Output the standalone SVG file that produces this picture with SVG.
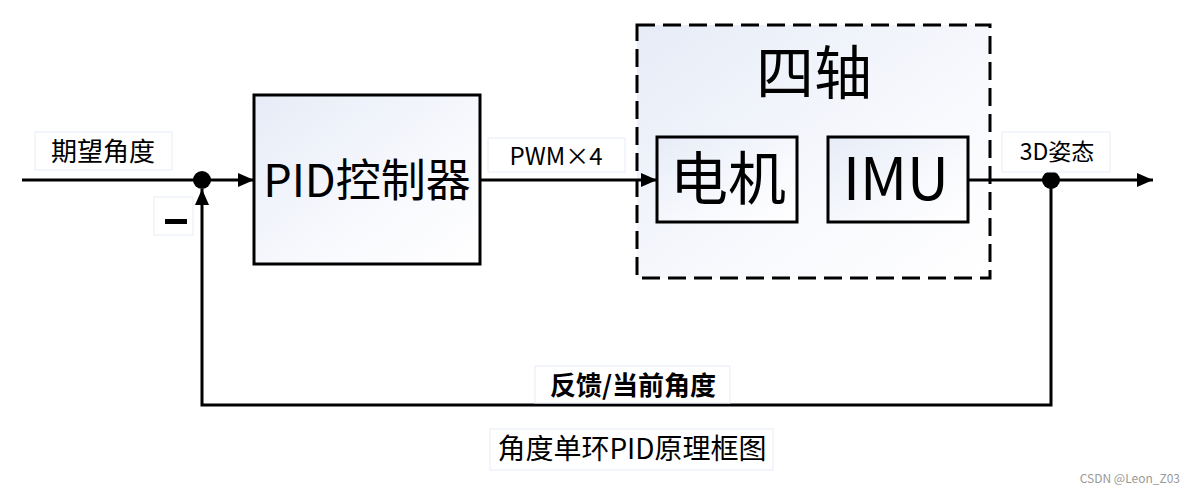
<svg xmlns="http://www.w3.org/2000/svg" width="1192" height="495" viewBox="0 0 1192 495">
<defs>
<linearGradient id="g" x1="0" y1="0" x2="1" y2="1">
<stop offset="0" stop-color="#e6ecf7"/>
<stop offset="0.6" stop-color="#f8f9fd"/>
<stop offset="1" stop-color="#ffffff"/>
</linearGradient>
<marker id="arr" viewBox="0 0 16 14" refX="16" refY="7" markerWidth="16" markerHeight="14" markerUnits="userSpaceOnUse" orient="auto">
<path d="M0,0 L16,7 L0,14 Z" fill="#000"/>
</marker>
</defs>
<style>
text{font-family:"Noto Sans CJK SC","Noto Sans",sans-serif;fill:#000}
.blk{fill:url(#g);stroke:#000;stroke-width:3}
.lbl{fill:#fff;stroke:#e6ecf4;stroke-width:1}
.ln{fill:none;stroke:#000;stroke-width:3}
</style>
<rect width="1192" height="495" fill="#fff"/>

<g id="quad">
<rect x="637" y="25" width="353" height="253" fill="url(#g)" stroke="#000" stroke-width="3" stroke-dasharray="18 8"/>
<text x="814" y="94" font-size="58" text-anchor="middle">四轴</text>
</g>
<g id="pid">
<rect class="blk" x="254" y="95" width="226" height="169"/>
<text x="367" y="197" font-size="45" text-anchor="middle">PID控制器</text>
</g>
<g id="motor">
<rect class="blk" x="657" y="137" width="140" height="85"/>
<text x="728" y="200" font-size="58" text-anchor="middle">电机</text>
</g>
<g id="imu">
<rect class="blk" x="828" y="137" width="140" height="85"/>
<text x="896" y="200" font-size="58" text-anchor="middle">IMU</text>
</g>

<g id="connectors">
<line class="ln" x1="22" y1="180" x2="254" y2="180" marker-end="url(#arr)"/>
<line class="ln" x1="480" y1="180" x2="657" y2="180" marker-end="url(#arr)"/>
<line class="ln" x1="968" y1="180" x2="1153" y2="180" marker-end="url(#arr)"/>
<polyline class="ln" points="1051,180 1051,405 202,405 202,189" marker-end="url(#arr)"/>
<circle cx="202" cy="180" r="9" fill="#000"/>
<circle cx="1051" cy="180" r="9" fill="#000"/>
</g>

<g id="label-input">
<rect class="lbl" x="35" y="132" width="137" height="38"/>
<text x="103" y="161" font-size="26" text-anchor="middle">期望角度</text>
</g>
<g id="label-minus">
<rect class="lbl" x="154" y="197" width="39" height="38"/>
<rect x="165" y="219" width="22" height="5" fill="#000"/>
</g>
<g id="label-pwm">
<rect class="lbl" x="488" y="138" width="137" height="34"/>
<text x="556" y="165" font-size="24" text-anchor="middle">PWM×4</text>
</g>
<g id="label-3d">
<rect class="lbl" x="1002" y="132" width="108" height="40"/>
<text x="1057" y="160" font-size="23" text-anchor="middle">3D姿态</text>
</g>
<g id="label-feedback">
<rect class="lbl" x="535" y="366" width="195" height="37"/>
<text x="633" y="395" font-size="26" font-weight="bold" text-anchor="middle">反馈/当前角度</text>
</g>
<g id="caption">
<rect class="lbl" x="490" y="429" width="283" height="41"/>
<text x="632" y="459" font-size="28" text-anchor="middle">角度单环PID原理框图</text>
</g>
<text x="1180" y="483" font-size="12" fill="#999" style="fill:#999" text-anchor="end">CSDN @Leon_Z03</text>
</svg>
